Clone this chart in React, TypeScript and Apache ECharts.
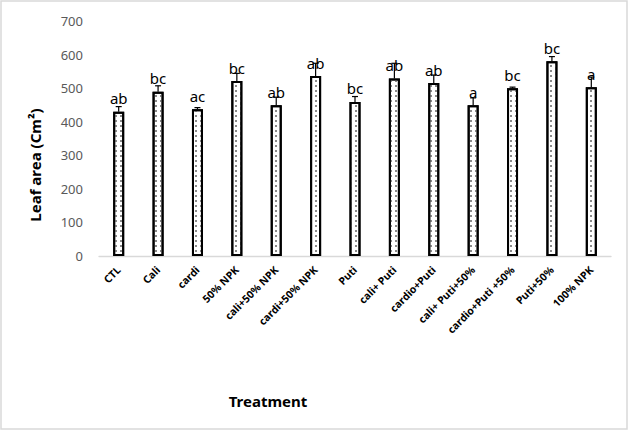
import React, { useEffect, useRef } from "react";
import * as echarts from "echarts";

const categories = [
  "CTL", "Cali", "cardi", "50% NPK", "cali+50% NPK", "cardi+50% NPK", "Puti",
  "cali+ Puti", "cardio+Puti", "cali+ Puti+50%", "cardio+Puti +50%", "Puti+50%", "100% NPK",
];
const leafArea = [430, 489, 437, 521, 449, 536, 459, 529, 515, 449, 500, 580, 503];
const errors = [15, 18, 5, 23, 24, 38, 16, 45, 24, 22, 3, 14, 30];
const letters = ["ab", "bc", "ac", "bc", "ab", "ab", "bc", "ab", "ab", "a", "bc", "bc", "a"];
const yTicks = [0, 100, 200, 300, 400, 500, 600, 700];

export default function App() {
  const ref = useRef<HTMLDivElement>(null);
  useEffect(() => {
    if (!ref.current) return;
    const chart = echarts.init(ref.current, undefined, { renderer: "svg" });
    const font = "'Noto Sans', 'Liberation Sans', sans-serif";
    chart.setOption({
      animation: false,
      backgroundColor: "#fff",
      grid: { left: 99, right: 18, top: 21, bottom: 175 },
      xAxis: {
        type: "category",
        data: categories,
        axisLine: { lineStyle: { color: "#d9d9d9", width: 1.3 } },
        axisTick: { show: false },
        axisLabel: {
          rotate: 45,
          interval: 0,
          fontFamily: font,
          fontWeight: "bold",
          fontSize: 10.5,
          color: "#000",
          margin: 12,
        },
      },
      yAxis: {
        type: "value",
        min: yTicks[0],
        max: yTicks[yTicks.length - 1],
        interval: 100,
        splitLine: { show: false },
        axisLine: { show: false },
        axisTick: { show: false },
        axisLabel: { fontFamily: font, fontSize: 13, color: "#595959", margin: 16 },
      },
      series: [
        {
          type: "bar",
          data: leafArea,
          barWidth: 11,
          itemStyle: {
            color: "#fff",
            borderColor: "#000",
            borderWidth: 2,
            decal: {
              symbol: "rect",
              symbolSize: 1,
              dashArrayX: [1.2, 2.8],
              dashArrayY: [1.2, 2.2],
              color: "#8a8a8a",
            },
          },
          label: {
            show: true,
            position: "top",
            distance: 6,
            formatter: (p: any) => letters[p.dataIndex],
            fontFamily: font,
            fontSize: 15,
            color: "#000",
          },
          z: 2,
        },
        {
          type: "custom",
          data: leafArea.map((v, i) => [i, v, errors[i]]),
          renderItem: (params: any, api: any) => {
            const i = api.value(0);
            const v = api.value(1);
            const e = api.value(2);
            const p0 = api.coord([i, v]);
            const p1 = api.coord([i, v + e]);
            const half = 3;
            return {
              type: "group",
              children: [
                { type: "line", shape: { x1: p0[0], y1: p0[1], x2: p1[0], y2: p1[1] }, style: { stroke: "#000", lineWidth: 1.2 } },
                { type: "line", shape: { x1: p1[0] - half, y1: p1[1], x2: p1[0] + half, y2: p1[1] }, style: { stroke: "#000", lineWidth: 1.2 } },
              ],
            };
          },
          z: 3,
        },
      ],
      graphic: [
        {
          type: "rect",
          shape: { x: 1, y: 1, width: 626, height: 428 },
          style: { fill: "none", stroke: "#d9d9d9", lineWidth: 1.5 },
          silent: true,
        },
        {
          type: "text",
          x: 35,
          y: 165,
          rotation: Math.PI / 2,
          style: {
            text: "Leaf area (Cm²)",
            fontFamily: font,
            fontWeight: "bold",
            fontSize: 15,
            fill: "#000",
            align: "center",
            verticalAlign: "middle",
          },
        },
        {
          type: "text",
          x: 268,
          y: 401,
          style: {
            text: "Treatment",
            fontFamily: font,
            fontWeight: "bold",
            fontSize: 15,
            fill: "#000",
            align: "center",
            verticalAlign: "middle",
          },
        },
      ],
    });
    return () => chart.dispose();
  }, []);
  return (
    <div
      ref={ref}
      style={{ position: "absolute", left: 0, top: 0, width: 629, height: 431 }}
    />
  );
}
